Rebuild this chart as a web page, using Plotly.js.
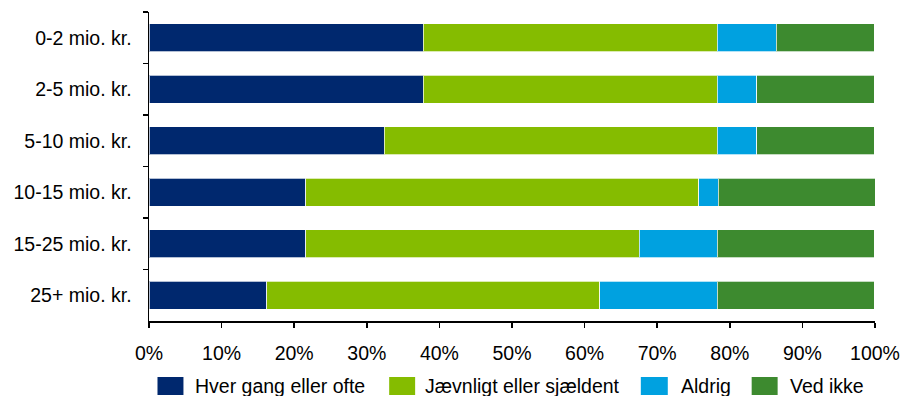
<!DOCTYPE html>
<html>
<head>
<meta charset="utf-8">
<script src="https://cdn.plot.ly/plotly-3.0.1.min.js"></script>
<style>html,body{margin:0;padding:0;background:#fff;}#chart{width:903px;height:396px;}</style>
</head>
<body>
<div id="chart"></div>
<script>
// Data (percent of respondents)
var categories = ["0-2 mio. kr.", "2-5 mio. kr.", "5-10 mio. kr.", "10-15 mio. kr.", "15-25 mio. kr.", "25+ mio. kr."];
var seriesNames = ["Hver gang eller ofte", "Jævnligt eller sjældent", "Aldrig", "Ved ikke"];
var hverGang = [37.8, 37.8, 32.4, 21.6, 21.6, 16.2];
var jaevnligt = [40.5, 40.5, 45.9, 54.1, 45.9, 45.9];
var aldrig = [8.1, 5.4, 5.4, 2.7, 10.8, 16.2];
var vedIkke = [13.5, 16.2, 16.2, 21.6, 21.6, 21.6];
var xTickVals = [0, 10, 20, 30, 40, 50, 60, 70, 80, 90, 100];
var xTickText = ["0%", "10%", "20%", "30%", "40%", "50%", "60%", "70%", "80%", "90%", "100%"];

var colors = ["#00286E", "#85BC00", "#00A1E0", "#3D8A2F"];
var values = [hverGang, jaevnligt, aldrig, vedIkke];

var traces = values.map(function (v, i) {
  return {
    type: "bar",
    orientation: "h",
    name: seriesNames[i],
    x: v,
    y: categories,
    marker: { color: colors[i], line: { color: "rgba(255,255,255,0.7)", width: 1 } },
    hoverinfo: "x+name"
  };
});

var W = 903, H = 396;
var m = { l: 148.5, r: 27.5, t: 12, b: 75 };
var pw = W - m.l - m.r, ph = H - m.t - m.b;
function px(x) { return (x - m.l) / pw; }
function py(y) { return (H - m.b - y) / ph; }

var fontFam = "Liberation Sans, Arial, sans-serif";
var fs = 19.5;
var swatches = [[157, 183], [389, 415], [641, 668], [752, 778]];
var textStarts = [195, 425, 681, 790];
var shapes = [], annotations = [];
for (var i = 0; i < seriesNames.length; i++) {
  shapes.push({
    type: "rect", xref: "paper", yref: "paper",
    x0: px(swatches[i][0]), x1: px(swatches[i][1]),
    y0: py(395), y1: py(377),
    fillcolor: colors[i], line: { width: 0 }
  });
  annotations.push({
    xref: "paper", yref: "paper",
    x: px(textStarts[i] - 2), y: py(386),
    xanchor: "left", yanchor: "middle",
    text: seriesNames[i], showarrow: false,
    font: { family: fontFam, size: fs, color: "#000" }
  });
}

var layout = {
  width: W, height: H,
  margin: m,
  paper_bgcolor: "#fff", plot_bgcolor: "#fff",
  font: { family: fontFam, size: fs, color: "#000" },
  barmode: "stack",
  bargap: 0.456,
  showlegend: false,
  xaxis: {
    range: [0, 100],
    tickvals: xTickVals, ticktext: xTickText,
    showgrid: false, zeroline: false,
    showline: true, linecolor: "#000", linewidth: 1.5,
    ticks: "outside", ticklen: 5, tickwidth: 1.5, tickcolor: "#000",
    ticklabelstandoff: 9,
    tickfont: { family: fontFam, size: fs, color: "#000" },
    fixedrange: true
  },
  yaxis: {
    type: "category",
    autorange: "reversed",
    showgrid: false, zeroline: false,
    showline: true, linecolor: "#000", linewidth: 1.5,
    ticks: "outside", ticklen: 5, tickwidth: 1.5, tickcolor: "#000",
    tickson: "boundaries",
    ticklabelstandoff: 12,
    tickfont: { family: fontFam, size: fs, color: "#000" },
    fixedrange: true
  },
  shapes: shapes,
  annotations: annotations
};

Plotly.newPlot("chart", traces, layout, { displayModeBar: false, staticPlot: true });
</script>
</body>
</html>
